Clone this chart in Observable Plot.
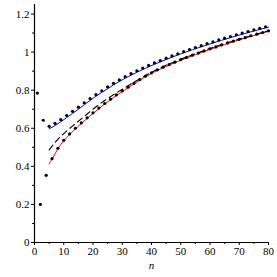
<!DOCTYPE html>
<html>
<head>
<meta charset="utf-8">
<script src="https://cdn.jsdelivr.net/npm/d3@7"></script>
<script src="https://cdn.jsdelivr.net/npm/@observablehq/plot@0.6"></script>
<style>
  html, body { margin: 0; padding: 0; background: #fff; }
  svg, svg text { font-family: "Liberation Serif", "Times New Roman", serif !important; }
</style>
</head>
<body>
<div id="chart"></div>
<script>
// odd n: upper dot series
const nOdd = [1,3,5,7,9,11,13,15,17,19,21,23,25,27,29,31,33,35,37,39,41,43,45,47,49,51,53,55,57,59,61,63,65,67,69,71,73,75,77,79];
const upperDots = [0.785,0.642,0.610,0.626,0.645,0.667,0.689,0.711,0.734,0.756,0.777,0.797,0.817,0.836,0.854,0.871,0.887,0.902,0.916,0.930,0.943,0.955,0.968,0.980,0.991,1.002,1.013,1.024,1.034,1.044,1.054,1.064,1.073,1.082,1.091,1.100,1.108,1.117,1.125,1.133];
// even n: lower dot series
const nEven = [2,4,6,8,10,12,14,16,18,20,22,24,26,28,30,32,34,36,38,40,42,44,46,48,50,52,54,56,58,60,62,64,66,68,70,72,74,76,78,80];
const lowerDots = [0.200,0.353,0.440,0.495,0.537,0.570,0.600,0.628,0.655,0.681,0.706,0.730,0.753,0.775,0.796,0.816,0.836,0.855,0.874,0.891,0.907,0.921,0.934,0.947,0.960,0.972,0.984,0.995,1.006,1.017,1.027,1.038,1.048,1.058,1.067,1.076,1.086,1.094,1.103,1.112];

// curves
const blueN = [5,7,9,11,13,15,17,19,21,25,29,35,41,49,59,69,79,80];
const blueY = [0.597,0.614,0.634,0.656,0.678,0.700,0.723,0.746,0.768,0.808,0.846,0.894,0.936,0.985,1.038,1.085,1.127,1.131];
const redN = [5,6,8,10,12,14,16,18,20,22,24,26,28,30,34,38,44,50,60,70,80];
const redY = [0.413,0.438,0.492,0.534,0.567,0.597,0.625,0.652,0.678,0.703,0.727,0.750,0.772,0.793,0.833,0.871,0.918,0.957,1.014,1.064,1.109];
const dashN = [5,7,10,14,18,22,26,30,36,44,52,60,70,80];
const dashY = [0.486,0.525,0.572,0.624,0.675,0.724,0.766,0.805,0.860,0.924,0.974,1.019,1.068,1.112];

// ticks
const xTicks = [0,10,20,30,40,50,60,70,80];
const xMinor = [5,15,25,35,45,55,65,75];
const yTicks = [0,0.2,0.4,0.6,0.8,1,1.2];
const yTickLabels = ["0","0.2","0.4","0.6","0.8","1","1.2"];
const yMinor = [0.1,0.3,0.5,0.7,0.9,1.1];
const xLabel = "n";

const pts = (xs, ys) => xs.map((x, i) => ({x, y: ys[i]}));
const serif = "Liberation Serif";

const chart = Plot.plot({
  width: 277,
  height: 277,
  marginLeft: 34,
  marginRight: 9,
  marginTop: 4,
  marginBottom: 35,
  style: {fontFamily: serif, fontSize: "11px", background: "#fff", color: "#000"},
  x: {domain: [0, 80]},
  y: {domain: [0, 1.25]},
  marks: [
    Plot.axisX({ticks: xTicks, tickSize: 3, tickPadding: 2, tickFormat: d => String(d), label: null, stroke: "#000", fontFamily: serif, fontSize: 11}),
    Plot.axisX({ticks: xMinor, tickSize: 2, text: null, label: null, stroke: "#000"}),
    Plot.axisY({ticks: yTicks, tickSize: 3, tickPadding: 2, tickFormat: d => yTickLabels[yTicks.indexOf(d)], label: null, stroke: "#000", fontFamily: serif, fontSize: 11}),
    Plot.axisY({ticks: yMinor, tickSize: 2, text: null, label: null, stroke: "#000"}),
    Plot.ruleY([0], {stroke: "#000", strokeWidth: 1.2}),
    Plot.ruleX([0], {stroke: "#000", strokeWidth: 1.2}),
    Plot.line(pts(blueN, blueY), {x: "x", y: "y", stroke: "#0000ff", strokeWidth: 1, curve: "monotone-x"}),
    Plot.line(pts(redN, redY), {x: "x", y: "y", stroke: "#ff0000", strokeWidth: 1, curve: "monotone-x"}),
    Plot.line(pts(dashN, dashY), {x: "x", y: "y", stroke: "#000", strokeWidth: 1.1, strokeDasharray: "6,4", curve: "monotone-x"}),
    Plot.dot(pts(nOdd, upperDots), {x: "x", y: "y", r: 1.6, fill: "#000", stroke: "none"}),
    Plot.dot(pts(nEven, lowerDots), {x: "x", y: "y", r: 1.6, fill: "#000", stroke: "none"}),
    Plot.text([xLabel], {frameAnchor: "bottom", dy: 23, lineAnchor: "middle", fontStyle: "italic", fontSize: 11, fontFamily: serif, fill: "#000"})
  ]
});
document.getElementById("chart").appendChild(chart);
</script>
</body>
</html>
